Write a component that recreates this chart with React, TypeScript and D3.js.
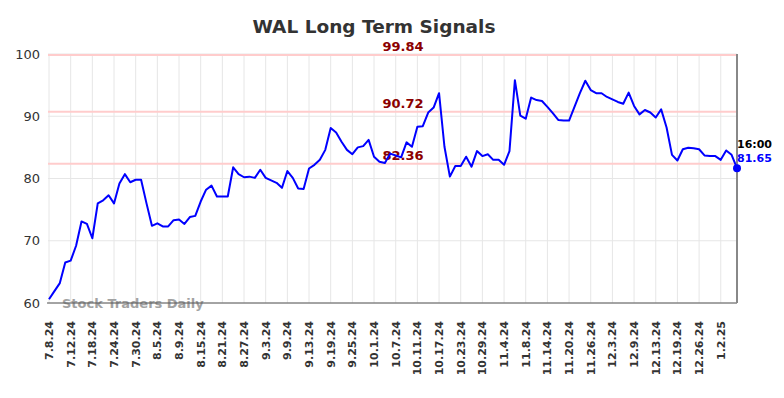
import * as d3 from "d3";

// closing prices, one per trading day from 7.8.24
const prices = [
  60.6, 61.9, 63.2, 66.5, 66.8, 69.2, 73.1, 72.7, 70.4, 76.0,
  76.5, 77.3, 76.0, 79.2, 80.7, 79.4, 79.8, 79.8, 76.0, 72.4,
  72.8, 72.3, 72.3, 73.3, 73.4, 72.7, 73.8, 74.0, 76.3, 78.2,
  78.85, 77.1, 77.1, 77.1, 81.8, 80.7, 80.2, 80.3, 80.1, 81.4,
  80.1, 79.7, 79.3, 78.5, 81.2, 80.1, 78.4, 78.3, 81.6, 82.2,
  83.0, 84.6, 88.1, 87.4, 85.9, 84.6, 83.9, 85.0, 85.2, 86.2,
  83.5, 82.7, 82.5, 84.0, 83.7, 83.4, 85.8, 85.1, 88.3, 88.4,
  90.6, 91.4, 93.7, 85.1, 80.3, 82.0, 82.0, 83.5, 81.9, 84.4,
  83.6, 83.9, 83.0, 83.0, 82.2, 84.4, 95.8, 90.1, 89.6, 93.0,
  92.6, 92.45, 91.5, 90.5, 89.4, 89.3, 89.3, 91.5, 93.7, 95.7,
  94.2, 93.7, 93.7, 93.1, 92.7, 92.3, 92.0, 93.8, 91.65, 90.3,
  91.0, 90.6, 89.8, 91.1, 88.2, 83.8, 82.9, 84.7, 84.95, 84.85,
  84.7, 83.7, 83.6, 83.6, 83.0, 84.5, 83.8, 81.65,
];

// one label every 4 trading days
const tickLabels = [
  "7.8.24", "7.12.24", "7.18.24", "7.24.24", "7.30.24", "8.5.24", "8.9.24",
  "8.15.24", "8.21.24", "8.27.24", "9.3.24", "9.9.24", "9.13.24", "9.19.24",
  "9.25.24", "10.1.24", "10.7.24", "10.11.24", "10.17.24", "10.23.24",
  "10.29.24", "11.4.24", "11.8.24", "11.14.24", "11.20.24", "11.26.24",
  "12.3.24", "12.9.24", "12.13.24", "12.19.24", "12.26.24", "1.2.25",
];
const tickStep = 4;

const signalLevels = [99.84, 90.72, 82.36];
const yTicks = [60, 70, 80, 90, 100];

const W = 784;
const H = 398;
const left = 48;
const right = 737;
const top = 54;
const bottom = 303;
const font = "'DejaVu Sans', sans-serif";

export default function App() {
  const x = d3.scaleLinear().domain([0, prices.length - 1]).range([left + 1, right]);
  const y = d3.scaleLinear().domain([60, 100]).range([bottom, top]);
  const line = d3.line<number>().x((_, i) => x(i)).y((d) => y(d));
  const lastI = prices.length - 1;
  const last = prices[lastI];

  return (
    <svg width={W} height={H} style={{ position: "absolute", left: 0, top: 0 }} fontFamily={font}>
      <rect width={W} height={H} fill="#fff" />
      <text x={374} y={33} textAnchor="middle" fontSize={18.5} fontWeight="bold" fill="#333">
        WAL Long Term Signals
      </text>

      {/* grid */}
      {tickLabels.map((_, k) => (
        <line key={"vg" + k} x1={x(k * tickStep)} x2={x(k * tickStep)} y1={top} y2={bottom} stroke="#e6e6e6" strokeWidth={1} />
      ))}
      {yTicks.map((t) => (
        <line key={"hg" + t} x1={left} x2={right} y1={y(t)} y2={y(t)} stroke="#e6e6e6" strokeWidth={1} />
      ))}

      {/* signal levels */}
      {signalLevels.map((v) => (
        <g key={"s" + v}>
          <line x1={left} x2={right} y1={y(v)} y2={y(v)} stroke="#ffcccc" strokeWidth={2} />
          <text x={403} y={y(v) - 4} textAnchor="middle" fontSize={13} fontWeight="bold" fill="#8b0000">
            {v.toFixed(2)}
          </text>
        </g>
      ))}

      {/* y labels */}
      {yTicks.map((t) => (
        <text key={"yl" + t} x={40} y={y(t)} dy="0.35em" textAnchor="end" fontSize={13} fill="#333">
          {t}
        </text>
      ))}

      {/* x labels */}
      {tickLabels.map((lab, k) => (
        <text
          key={"xl" + k}
          transform={`translate(${x(k * tickStep)},${bottom + 18}) rotate(-90)`}
          dy="0.35em"
          textAnchor="end"
          fontSize={11}
          fontWeight="bold"
          fill="#333"
        >
          {lab}
        </text>
      ))}

      <text x={62} y={308} fontSize={13} fontWeight="bold" fill="#999" opacity={0.9}>
        Stock Traders Daily
      </text>

      {/* axes */}
      <line x1={left - 1} x2={right} y1={bottom} y2={bottom} stroke="#555" strokeWidth={1} />
      <line x1={right} x2={right} y1={top} y2={bottom} stroke="#888" strokeWidth={2} />

      <path d={line(prices) ?? ""} fill="none" stroke="#0000ff" strokeWidth={2} strokeLinejoin="round" />
      <circle cx={x(lastI)} cy={y(last)} r={4} fill="#0000ff" />
      <text x={x(lastI)} y={y(last) - 20} fontSize={11} fontWeight="bold" fill="#000">
        16:00
      </text>
      <text x={x(lastI)} y={y(last) - 6} fontSize={11} fontWeight="bold" fill="#0000ff">
        {last.toFixed(2)}
      </text>
    </svg>
  );
}
